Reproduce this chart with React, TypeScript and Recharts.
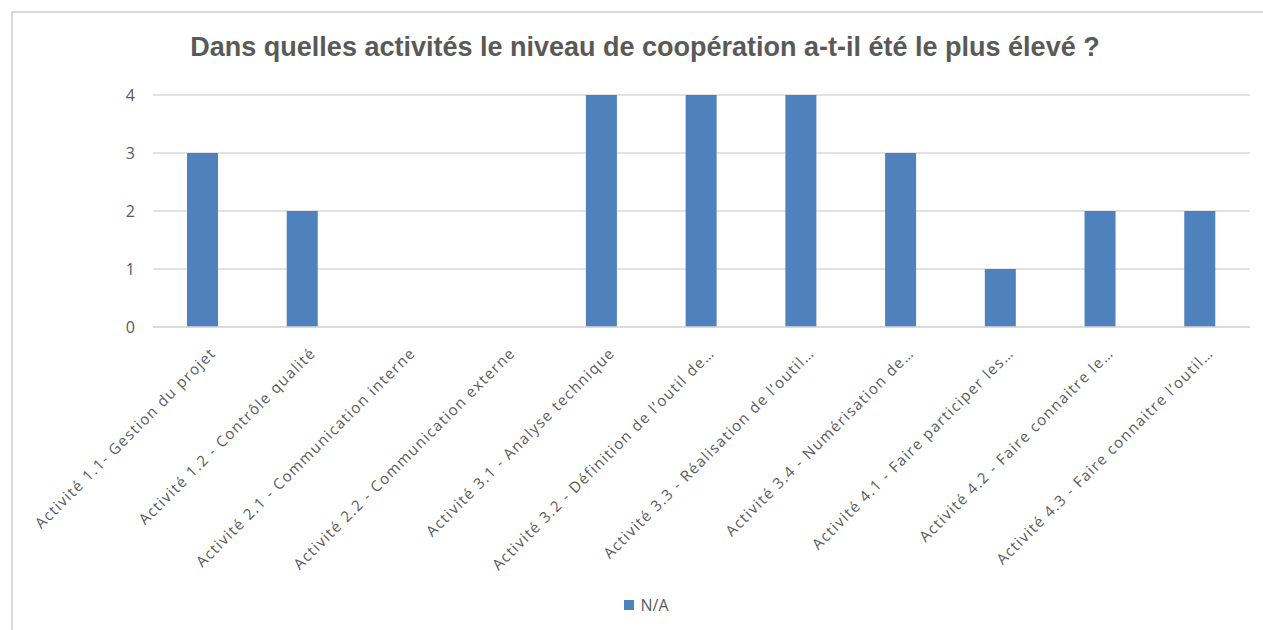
import { Bar, BarChart, CartesianGrid, Legend, XAxis, YAxis } from "recharts";

const activites = [
  "Activité 1.1- Gestion du projet",
  "Activité 1.2 - Contrôle qualité",
  "Activité 2.1 - Communication interne",
  "Activité 2.2 - Communication externe",
  "Activité 3.1 - Analyse technique",
  "Activité 3.2 - Définition de l’outil de…",
  "Activité 3.3 - Réalisation de l’outil…",
  "Activité 3.4 - Numérisation de…",
  "Activité 4.1 - Faire participer les…",
  "Activité 4.2 - Faire connaitre le…",
  "Activité 4.3 - Faire connaitre l’outil…",
];

const valeursNA = [3, 2, 0, 0, 4, 4, 4, 3, 1, 2, 2];

const yTicks = [0, 1, 2, 3, 4];

const data = activites.map((name, i) => ({ name, na: valeursNA[i] }));

const FONT = "'Open Sans', 'Liberation Sans', sans-serif";
const GRIS = "#595959";
const BLEU = "#4f81bd";

function RotatedTick({ x, y, payload }: any) {
  return (
    <g transform={`translate(${x + 14},${y + 19})`}>
      <text
        transform="rotate(-45)"
        textAnchor="end"
        fontSize={15}
        letterSpacing={1.35}
        fontFamily={FONT}
        fill={GRIS}
      >
        {payload.value}
      </text>
    </g>
  );
}

function LegendNA() {
  return (
    <div
      style={{
        display: "flex",
        justifyContent: "center",
        alignItems: "center",
        paddingTop: 27,
        marginLeft: -50,
        fontFamily: FONT,
        fontSize: 16,
        color: GRIS,
      }}
    >
      <span
        style={{
          width: 10,
          height: 10,
          background: BLEU,
          marginRight: 6,
          display: "inline-block",
        }}
      />
      N/A
    </div>
  );
}

export default function App() {
  return (
    <div
      style={{
        position: "absolute",
        left: 0,
        top: 0,
        width: 1263,
        height: 630,
        background: "#fff",
        overflow: "hidden",
      }}
    >
      {/* cadre du graphique */}
      <div
        style={{
          position: "absolute",
          left: 11,
          top: 11,
          width: 1300,
          height: 700,
          borderTop: "2px solid #d9d9d9",
          borderLeft: "2px solid #d9d9d9",
        }}
      />
      <div
        style={{
          position: "absolute",
          left: 0,
          width: 1290,
          top: 32,
          textAlign: "center",
          fontFamily: "'Liberation Sans', Arial, sans-serif",
          fontWeight: "bold",
          fontSize: 27,
          color: GRIS,
        }}
      >
        Dans quelles activités le niveau de coopération a-t-il été le plus élevé ?
      </div>
      <BarChart
        width={1263}
        height={630}
        data={data}
        margin={{ top: 95, right: 13, bottom: 10, left: 93 }}
        style={{ position: "absolute", left: 0, top: 0 }}
      >
        <CartesianGrid vertical={false} stroke="#d9d9d9" strokeWidth={1.5} />
        <XAxis
          dataKey="name"
          interval={0}
          height={240}
          tickLine={false}
          axisLine={{ stroke: "#d9d9d9", strokeWidth: 1.5 }}
          tick={<RotatedTick />}
        />
        <YAxis
          width={60}
          domain={[0, 4]}
          ticks={yTicks}
          axisLine={false}
          tickLine={false}
          tick={{ fill: GRIS, fontSize: 16, fontFamily: FONT }}
          tickMargin={12}
        />
        <Legend verticalAlign="bottom" height={53} content={<LegendNA />} />
        <Bar dataKey="na" name="N/A" fill={BLEU} barSize={31} isAnimationActive={false} />
      </BarChart>
    </div>
  );
}
